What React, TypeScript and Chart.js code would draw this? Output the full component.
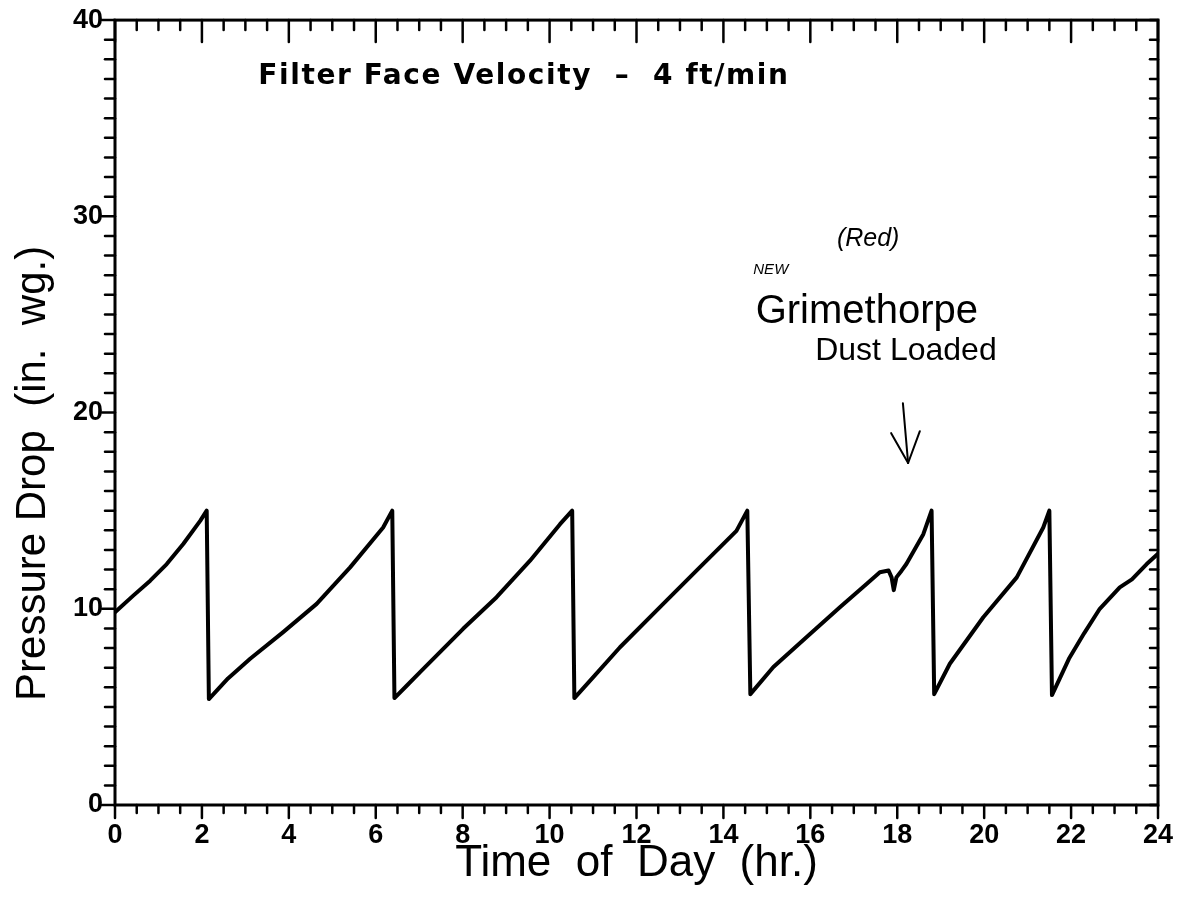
import React, { useEffect, useRef } from "react";
import { Chart, registerables } from "chart.js";

Chart.register(...registerables);

// ---- data ----
const hours = [
  0, 0.42, 0.81, 1.19, 1.57, 1.96, 2.11,
  2.16,
  2.6, 3.11, 3.87, 4.64, 5.41, 6.17, 6.38,
  6.43,
  6.7, 7.02, 8.01, 8.78, 9.55, 10.24, 10.52,
  10.57,
  11.0, 11.62, 12.54, 13.38, 14.3, 14.55,
  14.62,
  15.15, 15.91, 16.68, 17.3, 17.6, 17.8, 17.87, 17.92, 17.98, 18.1, 18.21, 18.6, 18.79,
  18.85,
  19.21, 19.98, 20.75, 21.36, 21.5,
  21.56,
  21.95, 22.3, 22.66, 23.12, 23.4, 23.74, 24,
];
const pressure = [
  9.82, 10.67, 11.43, 12.28, 13.3, 14.48, 15.0,
  5.4,
  6.45, 7.45, 8.81, 10.25, 12.11, 14.14, 15.0,
  5.45,
  6.05, 6.77, 8.98, 10.59, 12.45, 14.31, 15.0,
  5.45,
  6.5, 8.04, 10.08, 11.94, 13.97, 15.0,
  5.65,
  7.03, 8.55, 10.08, 11.27, 11.86, 11.95, 11.6, 10.95, 11.6, 11.94, 12.28, 13.8, 15.0,
  5.65,
  7.2, 9.57, 11.6, 14.14, 15.0,
  5.6,
  7.45, 8.75, 10.0, 11.09, 11.5, 12.28, 12.8,
];

const xTickValues = [0, 2, 4, 6, 8, 10, 12, 14, 16, 18, 20, 22, 24];
const yTickValues = [0, 10, 20, 30, 40];

const xTitle = "Time  of  Day  (hr.)";
const yTitle = "Pressure Drop  (in.  wg.)";

// annotation texts, anchored in data coordinates (hours, in. wg.)
const noteTexts = ["Filter Face Velocity  –  4 ft/min", "(Red)", "NEW", "Grimethorpe", "Dust Loaded"];
const noteX = [9.41, 17.33, 15.09, 17.3, 18.2];
const noteY = [37.1, 28.86, 27.29, 25.15, 23.12];
const noteFonts = [
  "bold 28px 'DejaVu Sans'",
  "italic 25px 'Liberation Sans'",
  "italic 15px 'Liberation Sans'",
  "40px 'Liberation Sans'",
  "32px 'Liberation Sans'",
];
const noteSpacing = ["1.6px", "0px", "0px", "0px", "0px"];
// arrow (shaft start, tip, two wing ends) in data coordinates
const arrowX = [18.13, 18.25, 17.86, 18.52];
const arrowY = [20.48, 17.43, 18.95, 19.05];
// y title centre along the axis (in. wg.)
const yTitleAt = 16.9;

const framePlugin = {
  id: "frameTicks",
  afterDraw(chart: any) {
    const { ctx, chartArea } = chart;
    const xs = chart.scales.x;
    const ys = chart.scales.y;
    const { left, right, top, bottom } = chartArea;
    ctx.save();
    ctx.strokeStyle = "#000";
    ctx.lineCap = "round";
    ctx.lineWidth = 3;
    ctx.strokeRect(left, top, right - left, bottom - top);
    const seg = (x1: number, y1: number, x2: number, y2: number) => {
      ctx.beginPath();
      ctx.moveTo(x1, y1);
      ctx.lineTo(x2, y2);
      ctx.stroke();
    };
    ctx.lineWidth = 2.5;
    for (let v = 0; v <= 24.001; v += 0.5) {
      const px = xs.getPixelForValue(v);
      const major = Math.abs(v / 2 - Math.round(v / 2)) < 1e-6;
      seg(px, bottom, px, bottom + (major ? 13 : 8));
      seg(px, top, px, top + (major ? 22 : 10));
    }
    for (let v = 0; v <= 40.001; v += 1) {
      const py = ys.getPixelForValue(v);
      const major = v % 10 === 0;
      seg(left, py, left - (major ? 13 : 10), py);
      seg(right, py, right - 8, py);
    }
    // y axis title
    ctx.fillStyle = "#000";
    ctx.save();
    ctx.translate(33, ys.getPixelForValue(yTitleAt));
    ctx.rotate(-Math.PI / 2);
    ctx.font = "42px 'Liberation Sans'";
    ctx.textAlign = "center";
    ctx.textBaseline = "middle";
    ctx.fillText(yTitle, 0, 0);
    ctx.restore();
    // annotations
    ctx.textAlign = "center";
    ctx.textBaseline = "middle";
    for (let i = 0; i < noteTexts.length; i++) {
      ctx.font = noteFonts[i];
      (ctx as any).letterSpacing = noteSpacing[i];
      ctx.fillText(noteTexts[i], xs.getPixelForValue(noteX[i]), ys.getPixelForValue(noteY[i]));
    }
    (ctx as any).letterSpacing = "0px";
    ctx.lineWidth = 2;
    const ax = arrowX.map((v) => xs.getPixelForValue(v));
    const ay = arrowY.map((v) => ys.getPixelForValue(v));
    seg(ax[0], ay[0], ax[1], ay[1]);
    seg(ax[2], ay[2], ax[1], ay[1]);
    seg(ax[3], ay[3], ax[1], ay[1]);
    ctx.restore();
  },
};

export default function App() {
  const ref = useRef<HTMLCanvasElement | null>(null);
  useEffect(() => {
    if (!ref.current) return;
    const points = hours.map((h, i) => ({ x: h, y: pressure[i] }));
    const chart = new Chart(ref.current, {
      type: "line",
      data: {
        datasets: [
          {
            data: points,
            borderColor: "#000",
            borderWidth: 4,
            borderJoinStyle: "round",
            borderCapStyle: "round",
            pointRadius: 0,
            tension: 0,
            fill: false,
          },
        ],
      },
      options: {
        responsive: false,
        animation: false,
        layout: { padding: { left: 0, top: 12, right: 30, bottom: 0 } },
        plugins: { legend: { display: false }, tooltip: { enabled: false } },
        scales: {
          x: {
            type: "linear",
            min: 0,
            max: 24,
            afterBuildTicks: (s: any) => {
              s.ticks = xTickValues.map((v) => ({ value: v }));
            },
            ticks: {
              color: "#000",
              font: { family: "'Liberation Sans'", weight: "bold", size: 27 },
              padding: 14,
              maxRotation: 0,
              autoSkip: false,
            },
            grid: { display: false, drawTicks: false },
            border: { display: false },
            title: {
              display: true,
              text: xTitle,
              color: "#000",
              font: { family: "'Liberation Sans'", size: 44 },
              padding: { top: 0, bottom: 8 },
            },
            afterFit: (s: any) => {
              s.height = 93;
            },
          },
          y: {
            type: "linear",
            min: 0,
            max: 40,
            afterBuildTicks: (s: any) => {
              s.ticks = yTickValues.map((v) => ({ value: v }));
            },
            ticks: {
              color: "#000",
              font: { family: "'Liberation Sans'", weight: "bold", size: 27, lineHeight: 0.6 },
              padding: 12,
            },
            grid: { display: false, drawTicks: false },
            border: { display: false },
            afterFit: (s: any) => {
              s.width = 115;
            },
          },
        },
      },
      plugins: [framePlugin],
    } as any);
    return () => chart.destroy();
  }, []);
  return (
    <div style={{ position: "absolute", left: 0, top: 0, width: 1188, height: 898, background: "#fff" }}>
      <canvas ref={ref} width={1188} height={898} />
    </div>
  );
}
